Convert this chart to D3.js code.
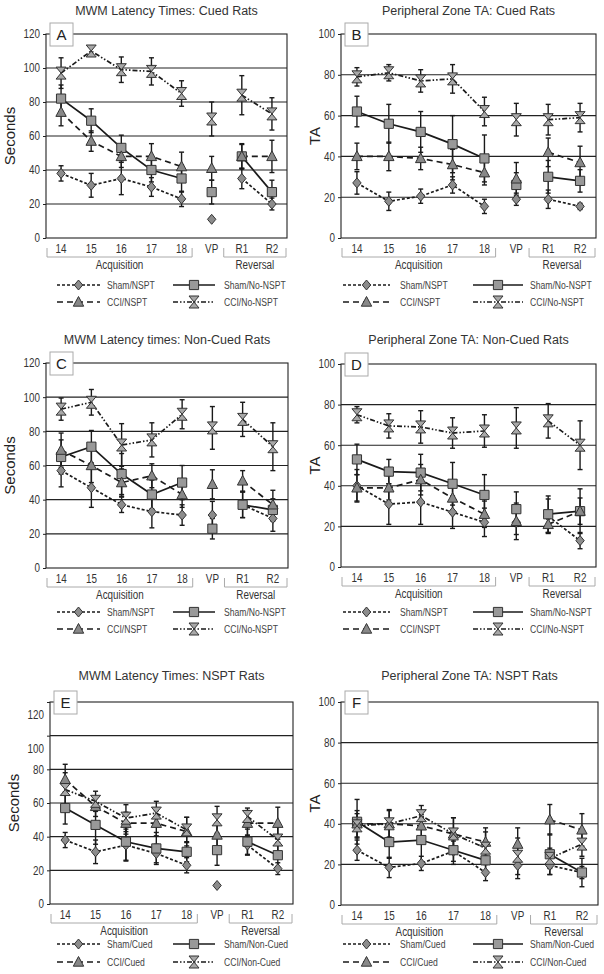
<!DOCTYPE html>
<html>
<head>
<meta charset="utf-8">
<script src="https://cdn.jsdelivr.net/npm/d3@7"></script>
<style>
  body { margin: 0; background: #fff; }
  svg { display: block; font-family: "Liberation Sans", Arial, sans-serif; }
</style>
</head>
<body>
<svg id="fig" width="604" height="974"></svg>
<script>
// categories and tick values
var days = ["14", "15", "16", "17", "18", "VP", "R1", "R2"];
var groupsNspt = ["Sham/NSPT", "Sham/No-NSPT", "CCI/NSPT", "CCI/No-NSPT"];
var groupsCued = ["Sham/Cued", "Sham/Non-Cued", "CCI/Cued", "CCI/Non-Cued"];
var secTicks = [0, 20, 40, 60, 80, 100, 120];
var taTicks = [0, 20, 40, 60, 80, 100];

// rows: sham/nspt (diamond), sham/no-nspt (square), cci/nspt (triangle), cci/no-nspt (hourglass)
// A - latency, cued rats
var aMean = [
  [38, 31, 35, 30, 23, 11, 35, 20],
  [82, 69, 53, 40, 35, 27, 48, 27],
  [74, 57, 48, 48, 42, 41, 48, 48],
  [97, 110, 99, 98, 85, 70, 84, 73]
];
var aErr = [
  [4.5, 7, 9.5, 5.5, 4.5, 0, 6, 3.5],
  [8, 7, 7.5, 7, 8, 7, 7, 7],
  [8, 6, 6.5, 7.5, 8.5, 7, 7.5, 9.5],
  [9, 2.5, 7.5, 8, 7.5, 10, 11.5, 9.5]
];
// B - peripheral zone TA, cued rats
var bMean = [
  [27, 18, 20.5, 26, 15.5, 19, 19, 15.5],
  [62, 56, 52, 46, 39, 26, 30, 28],
  [40, 40, 39, 36, 32, 29, 42, 37],
  [79, 81, 77, 78, 62, 58, 58, 59]
];
var bErr = [
  [5.5, 4.5, 3.5, 4, 3.5, 3, 4.5, 1.5],
  [7.5, 9.5, 10, 14, 11.5, 6, 8, 5.5],
  [6.5, 7, 5.5, 7.5, 6, 8, 7, 8],
  [4.5, 4, 5.5, 7, 7, 8, 7.5, 7]
];
// C - latency, non-cued rats
var cMean = [
  [57, 47, 37, 33, 31, 31, 37, 29],
  [65, 71, 55, 43, 50, 23, 37, 34],
  [69, 60, 50, 54, 43, 49, 51, 37],
  [93, 97, 72, 75, 90, 82, 87, 71]
];
var cErr = [
  [9.5, 11.5, 4.5, 9.5, 6, 8, 7.5, 7.5],
  [10, 9.5, 12, 8.5, 10, 6, 7.5, 6.5],
  [10, 10, 8, 7, 7.5, 8.5, 6, 8.5],
  [6.5, 7.5, 12.5, 10, 8.5, 12.5, 10, 14]
];
// D - peripheral zone TA, non-cued rats
var dMean = [
  [40, 31, 32, 27, 22, 22, 25, 13],
  [53, 47, 46.5, 41, 35.5, 28.5, 26, 27.5],
  [39, 39, 43, 34, 26, 22.5, 21, 27.5],
  [75, 69.5, 69, 66, 67, 68.5, 72, 60]
];
var dErr = [
  [8, 10, 11, 8, 7, 6, 8.5, 4],
  [7.5, 6, 9, 10.5, 10, 8.5, 9, 11],
  [6.5, 6, 7.5, 8, 6.5, 9, 4, 6.5],
  [4, 6, 8, 7.5, 8, 10, 8.5, 12]
];
// E - latency, NSPT rats (sham/cued, sham/non-cued, cci/cued, cci/non-cued)
var eMean = [
  [38, 31, 35, 30, 23, 11, 35, 21],
  [57, 47, 37, 33, 31, 32, 37, 29],
  [74, 58, 48, 48, 43, 41, 48, 48],
  [68, 61, 51, 54, 44, 50, 52, 38]
];
var eErr = [
  [4.5, 7, 9.5, 5.5, 4.5, 0, 6, 3.5],
  [9.5, 11.5, 11, 9.5, 6, 9, 7.5, 7.5],
  [9, 6, 6.5, 7.5, 8.5, 7, 7.5, 9.5],
  [10, 6, 8, 7, 7.5, 8, 5, 8]
];
// F - peripheral zone TA, NSPT rats
var fMean = [
  [27, 18.5, 20.5, 26.5, 16, 19.5, 19.5, 16],
  [41, 31, 32, 27, 22, null, 25, 16],
  [40, 40, 39, 35, 31, 30, 42, 37],
  [39, 40, 44, 35, 28, 24, 23, 30]
];
var fErr = [
  [5, 5, 3.5, 5, 4, 6.5, 4.5, 7],
  [11, 8, 11, 7, 7, 0, 10, 3],
  [6.5, 7, 5.5, 8, 7, 8, 7.5, 8],
  [6, 6.5, 5, 8, 8, 9, 5, 6]
];

var svg = d3.select("#fig");
var ink = "#1a1a1a";

var shapes = {
  diamond: "M0,-5L4.2,0L0,5L-4.2,0Z",
  square: "M-4.6,-4.6H4.6V4.6H-4.6Z",
  triangle: "M0,-5.5L5.2,4.2L-5.2,4.2Z",
  hourglass: "M-5,-6H5L0,0L5,6H-5L0,0Z"
};
var styles = [
  { shape: "diamond", dash: "3,2", fill: "#8c8c8c" },
  { shape: "square", dash: null, fill: "#999" },
  { shape: "triangle", dash: "6,4", fill: "#888" },
  { shape: "hourglass", dash: "5,2,1.5,2,1.5,2", fill: "#a8a8a8" }
];
// lines are broken at VP
var segments = [[0, 1, 2, 3, 4], [6, 7]];

var legendSides = {
  L: { lines: [[57, 100], [173, 215]], text: [107, 224] },
  R: { lines: [[343, 390], [473, 523]], text: [400, 530] }
};

var panels = [
  { id: "A", title: "MWM Latency Times: Cued Rats", left: 46, right: 287, top: 34, bottom: 238,
    ymax: 120, ticks: secTicks, ylab: "Seconds", titleY: 15, mean: aMean, err: aErr,
    names: groupsNspt, legendY: [285, 302], side: "L" },
  { id: "B", title: "Peripheral Zone TA: Cued Rats", left: 341, right: 596, top: 34, bottom: 238,
    ymax: 100, ticks: taTicks, ylab: "TA", titleY: 15, mean: bMean, err: bErr,
    names: groupsNspt, legendY: [285, 302], side: "R" },
  { id: "C", title: "MWM Latency times: Non-Cued Rats", left: 46, right: 288, top: 363, bottom: 568,
    ymax: 120, ticks: secTicks, ylab: "Seconds", titleY: 344, mean: cMean, err: cErr,
    names: groupsNspt, legendY: [612, 629], side: "L" },
  { id: "D", title: "Peripheral Zone TA: Non-Cued Rats", left: 341, right: 596, top: 364, bottom: 567,
    ymax: 100, ticks: taTicks, ylab: "TA", titleY: 344, mean: dMean, err: dErr,
    names: groupsNspt, legendY: [612, 629], side: "R" },
  { id: "E", title: "MWM Latency Times: NSPT Rats", left: 50, right: 293, top: 702, bottom: 904,
    ymax: 120, ticks: secTicks, ylab: "Seconds", titleY: 680, mean: eMean, err: eErr,
    names: groupsCued, legendY: [944, 962], side: "L", labelShift: 13 },
  { id: "F", title: "Peripheral Zone TA: NSPT Rats", left: 341, right: 598, top: 702, bottom: 905,
    ymax: 100, ticks: taTicks, ylab: "TA", titleY: 680, mean: fMean, err: fErr,
    names: groupsCued, legendY: [944, 962], side: "R" }
];

// the original uses a condensed face; squeeze the regular one to match
function squeeze(sel, f) {
  sel.each(function() {
    var w = this.getComputedTextLength();
    d3.select(this).attr("textLength", w * f).attr("lengthAdjust", "spacingAndGlyphs");
  });
}

function drawPanel(p) {
  var g = svg.append("g").attr("class", "panel-" + p.id);
  var x = d3.scaleBand().domain(days).range([p.left, p.right]);
  var cx = function(d) { return x(d) + x.bandwidth() / 2; };
  var y = d3.scaleLinear().domain([0, p.ymax]).range([p.bottom, p.top]);

  // title
  g.append("text")
    .attr("x", (p.left + p.right) / 2).attr("y", p.titleY)
    .attr("text-anchor", "middle").attr("font-size", 12.5).attr("fill", "#333")
    .text(p.title);

  // gridlines and frame
  g.selectAll("line.grid")
    .data(p.ticks.filter(function(t) { return t > 0 && t < p.ymax; }))
    .join("line").attr("class", "grid")
    .attr("x1", p.left).attr("x2", p.right)
    .attr("y1", function(d) { return y(d); }).attr("y2", function(d) { return y(d); })
    .attr("stroke", "#222").attr("stroke-width", 1.1);
  g.append("rect")
    .attr("x", p.left).attr("y", p.top)
    .attr("width", p.right - p.left).attr("height", p.bottom - p.top)
    .attr("fill", "none").attr("stroke", "#222").attr("stroke-width", 1.1);

  // y axis
  var ya = g.append("g").attr("transform", "translate(" + p.left + ",0)")
    .call(d3.axisLeft(y).tickValues(p.ticks).tickSize(3).tickPadding(3));
  ya.select(".domain").remove();
  ya.selectAll("line").attr("stroke", "#222");
  ya.selectAll("text").attr("font-size", 12).attr("fill", "#333").call(squeeze, 0.82);
  if (p.labelShift) {
    // the upper two labels sit lower than their gridlines in the original
    ya.selectAll(".tick text")
      .filter(function(d) { return d >= 100; })
      .attr("y", p.labelShift);
  }

  g.append("text")
    .attr("transform", "translate(" + (p.left - (p.ylab === "TA" ? 26 : 36)) + "," + ((p.top + p.bottom) / 2) + ") rotate(-90)")
    .attr("text-anchor", "middle").attr("dy", "0.35em")
    .attr("font-size", 15).attr("fill", "#222")
    .text(p.ylab);

  // x axis labels
  var xa = g.append("g").attr("transform", "translate(0," + p.bottom + ")")
    .call(d3.axisBottom(x).tickSize(0).tickPadding(6));
  xa.select(".domain").remove();
  xa.selectAll("text").attr("font-size", 12).attr("fill", "#333").call(squeeze, 0.82);

  // acquisition / reversal brackets
  var bw = x.bandwidth();
  var by = p.bottom + 19;
  var brackets = [
    { name: "Acquisition", x0: p.left + 1, x1: cx("18") + bw * 0.35 },
    { name: "Reversal", x0: cx("R1") - bw * 0.6, x1: p.right - 1 }
  ];
  g.selectAll("path.bracket").data(brackets).join("path").attr("class", "bracket")
    .attr("d", function(b) {
      return "M" + b.x0 + "," + (by - 9) + "V" + by + "H" + b.x1 + "V" + (by - 9);
    })
    .attr("fill", "none").attr("stroke", "#aaa").attr("stroke-width", 1);
  g.selectAll("text.bracket").data(brackets).join("text").attr("class", "bracket")
    .attr("x", function(b) { return (b.x0 + b.x1) / 2; }).attr("y", by + 12)
    .attr("text-anchor", "middle").attr("font-size", 12).attr("fill", "#333")
    .text(function(b) { return b.name; })
    .call(squeeze, 0.82);

  // series: lines, error bars, markers
  var series = p.mean.map(function(vals, i) {
    return { i: i, pts: vals.map(function(v, k) { return { day: days[k], k: k, v: v, e: p.err[i][k] }; }) };
  });

  var line = d3.line()
    .defined(function(d) { return d.v != null; })
    .x(function(d) { return cx(d.day); })
    .y(function(d) { return y(d.v); });

  series.forEach(function(s) {
    segments.forEach(function(seg) {
      g.append("path")
        .datum(seg.map(function(k) { return s.pts[k]; }))
        .attr("d", line)
        .attr("fill", "none").attr("stroke", ink).attr("stroke-width", 1.7)
        .attr("stroke-dasharray", styles[s.i].dash);
    });
  });

  series.forEach(function(s) {
    var eb = g.selectAll(null)
      .data(s.pts.filter(function(d) { return d.v != null && d.e > 0; }))
      .join("g").attr("stroke", ink).attr("stroke-width", 1.4);
    eb.append("line")
      .attr("x1", function(d) { return cx(d.day); }).attr("x2", function(d) { return cx(d.day); })
      .attr("y1", function(d) { return y(d.v - d.e); }).attr("y2", function(d) { return y(d.v + d.e); });
    eb.append("line")
      .attr("x1", function(d) { return cx(d.day) - 2.5; }).attr("x2", function(d) { return cx(d.day) + 2.5; })
      .attr("y1", function(d) { return y(d.v + d.e); }).attr("y2", function(d) { return y(d.v + d.e); });
    eb.append("line")
      .attr("x1", function(d) { return cx(d.day) - 2.5; }).attr("x2", function(d) { return cx(d.day) + 2.5; })
      .attr("y1", function(d) { return y(d.v - d.e); }).attr("y2", function(d) { return y(d.v - d.e); });
  });

  series.forEach(function(s) {
    g.selectAll(null)
      .data(s.pts.filter(function(d) { return d.v != null; }))
      .join("path")
      .attr("transform", function(d) { return "translate(" + cx(d.day) + "," + y(d.v) + ")"; })
      .attr("d", shapes[styles[s.i].shape])
      .attr("fill", styles[s.i].fill).attr("stroke", "#333").attr("stroke-width", 1);
  });

  // panel letter box
  g.append("rect")
    .attr("x", p.left + 4).attr("y", p.top - 11)
    .attr("width", 23).attr("height", 23)
    .attr("fill", "#fff").attr("stroke", "#aaa").attr("stroke-width", 1);
  g.append("text")
    .attr("x", p.left + 15.5).attr("y", p.top + 6)
    .attr("text-anchor", "middle").attr("font-size", 15).attr("fill", "#222")
    .text(p.id);

  // legend
  var side = legendSides[p.side];
  p.names.forEach(function(name, i) {
    var col = i % 2, row = Math.floor(i / 2);
    var ly = p.legendY[row];
    var lx = side.lines[col];
    var lg = svg.append("g");
    lg.append("line")
      .attr("x1", lx[0]).attr("x2", lx[1]).attr("y1", ly).attr("y2", ly)
      .attr("stroke", ink).attr("stroke-width", 1.6)
      .attr("stroke-dasharray", styles[i].dash);
    lg.append("path")
      .attr("transform", "translate(" + ((lx[0] + lx[1]) / 2) + "," + ly + ")")
      .attr("d", shapes[styles[i].shape])
      .attr("fill", styles[i].fill).attr("stroke", "#333").attr("stroke-width", 1);
    lg.append("text")
      .attr("x", side.text[col]).attr("y", ly).attr("dy", "0.35em")
      .attr("font-size", 10).attr("fill", "#444")
      .text(name)
      .call(squeeze, 0.86);
  });
}

panels.forEach(drawPanel);
</script>
</body>
</html>
